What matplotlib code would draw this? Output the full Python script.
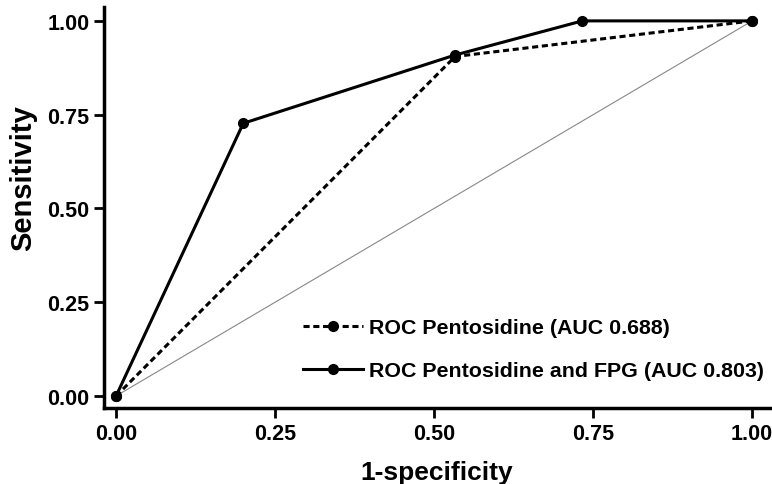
import matplotlib.pyplot as plt

plt.rcParams['font.family'] = ['Liberation Sans', 'DejaVu Sans']
plt.rcParams['font.weight'] = 'bold'

# ROC curve points
fpr_pent = [0.0, 0.533, 1.0]
tpr_pent = [0.0, 0.905, 1.0]
fpr_both = [0.0, 0.2, 0.533, 0.733, 1.0]
tpr_both = [0.0, 0.727, 0.909, 1.0, 1.0]
ticks = [0.0, 0.25, 0.5, 0.75, 1.0]
tick_labels = ['0.00', '0.25', '0.50', '0.75', '1.00']

fig = plt.figure(figsize=(7.72, 4.85), dpi=100)
ax = fig.add_axes([0.1347, 0.1567, 0.8627, 0.8268])

ax.plot([0, 1], [0, 1], color='#888888', lw=0.8)
ax.plot(fpr_pent, tpr_pent, ls=(0, (2, 1.2)), color='black', lw=2.2,
        marker='o', ms=7, label='ROC Pentosidine (AUC 0.688)')
ax.plot(fpr_both, tpr_both, ls='-', color='black', lw=2.2,
        marker='o', ms=7, label='ROC Pentosidine and FPG (AUC 0.803)')

ax.set_xlim(-0.019, 1.028)
ax.set_ylim(-0.032, 1.037)
ax.set_xticks(ticks)
ax.set_xticklabels(tick_labels)
ax.set_yticks(ticks)
ax.set_yticklabels(tick_labels)
ax.tick_params(labelsize=15.5, width=2, length=7)
for s in ['top', 'right']:
    ax.spines[s].set_visible(False)
for s in ['left', 'bottom']:
    ax.spines[s].set_linewidth(2.5)

ax.set_xlabel('1-specificity', fontsize=19, fontweight='bold', labelpad=12)
ax.set_ylabel('Sensitivity', fontsize=21, fontweight='bold')
ax.yaxis.set_label_coords(-0.10, 0.576)

ax.legend(loc='upper left', bbox_to_anchor=(303 / 772, 1 - 319 / 485),
          bbox_transform=fig.transFigure, frameon=False, borderpad=0,
          borderaxespad=0, fontsize=15.4, handlelength=2.8,
          handletextpad=0.3, labelspacing=1.13)

fig.savefig('out.png', dpi=100)
